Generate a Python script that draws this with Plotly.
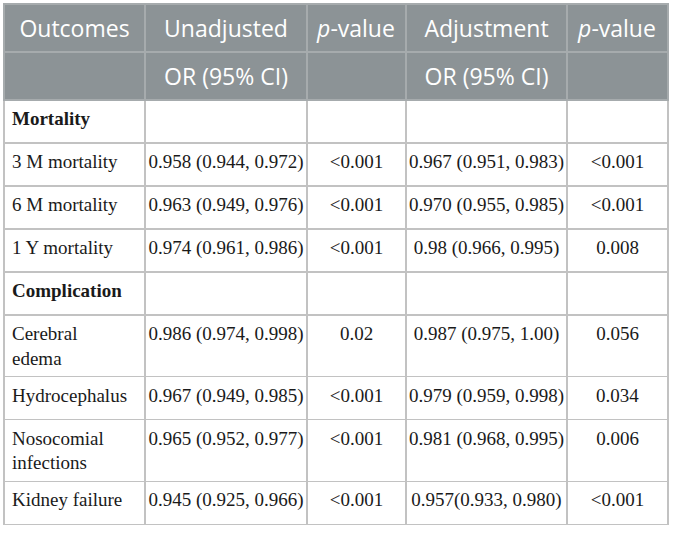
import plotly.graph_objects as go

# table contents
outcomes = ["<b>Mortality</b>", "3 M mortality", "6 M mortality", "1 Y mortality",
            "<b>Complication</b>", "Cerebral<br>edema", "Hydrocephalus",
            "Nosocomial<br>infections", "Kidney failure"]
unadjusted_or = ["", "0.958 (0.944, 0.972)", "0.963 (0.949, 0.976)", "0.974 (0.961, 0.986)",
                 "", "0.986 (0.974, 0.998)", "0.967 (0.949, 0.985)",
                 "0.965 (0.952, 0.977)", "0.945 (0.925, 0.966)"]
unadjusted_p = ["", "<0.001", "<0.001", "<0.001", "", "0.02", "<0.001", "<0.001", "<0.001"]
adjusted_or = ["", "0.967 (0.951, 0.983)", "0.970 (0.955, 0.985)", "0.98 (0.966, 0.995)",
               "", "0.987 (0.975, 1.00)", "0.979 (0.959, 0.998)",
               "0.981 (0.968, 0.995)", "0.957(0.933, 0.980)"]
adjusted_p = ["", "<0.001", "<0.001", "0.008", "", "0.056", "0.034", "0.006", "<0.001"]

header_rows = [["Outcomes", ""],
               ["Unadjusted", "OR (95% CI)"],
               ["<i>p</i>-value", ""],
               ["Adjustment", "OR (95% CI)"],
               ["<i>p</i>-value", ""]]


def nowrap(col):
    # plotly wraps table text at spaces; keep each value on one line
    return [v.replace(" ", "\u00a0") for v in col]


def tagged(col):
    # give every text the same (html) placement as the ones with tags
    return [v if (v == "" or "<" in v) else "<span>" + v + "</span>" for v in col]


fig = go.Figure(go.Table(
    columnwidth=[141, 162, 99, 161, 101],
    header=dict(
        values=[tagged(c) for c in header_rows],
        fill_color="#8c9396",
        line=dict(color="#a6abad", width=1.5),
        font=dict(family="Open Sans", size=23, color="white"),
        align="center",
        height=43,
    ),
    cells=dict(
        values=[tagged(outcomes), tagged(nowrap(unadjusted_or)), tagged(nowrap(unadjusted_p)),
                tagged(nowrap(adjusted_or)), tagged(nowrap(adjusted_p))],
        fill_color="white",
        line=dict(color="#c2c2c2", width=1.5),
        font=dict(family="Liberation Serif", size=19, color="#1a1a1a"),
        align=["left", "center", "center", "center", "center"],
        height=43,
    ),
))

fig.update_layout(
    width=674, height=535,
    margin=dict(l=4, r=6, t=4, b=0),
    paper_bgcolor="white",
)

# drop the page's default body margin so the figure sits at the window's corner
fig.write_html("out.html", config={"displayModeBar": False},
               post_script="document.body.style.margin='0px';")
